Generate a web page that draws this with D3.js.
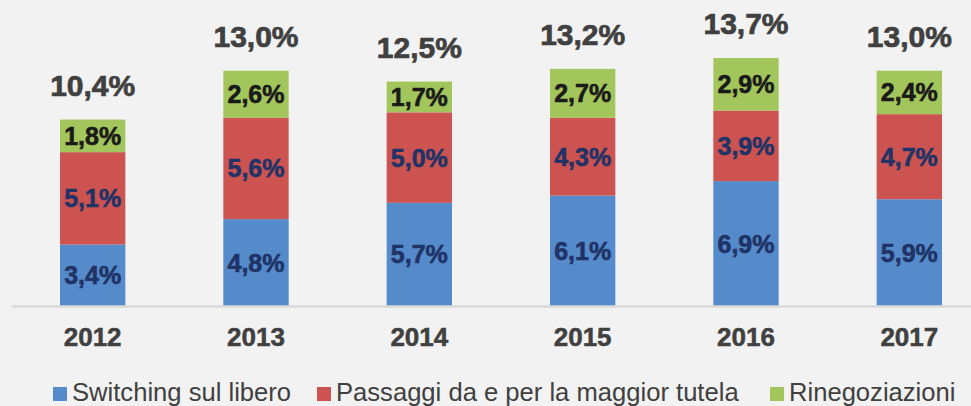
<!DOCTYPE html>
<html>
<head>
<meta charset="utf-8">
<script src="https://cdn.jsdelivr.net/npm/d3@7"></script>
<style>
  body { margin: 0; background: #f2f2f2; }
  svg { display: block; font-family: "Liberation Sans", Arial, sans-serif; }
</style>
</head>
<body>
<div id="chart"></div>
<script>
const years = ['2012', '2013', '2014', '2015', '2016', '2017'];
const seriesNames = ['Switching sul libero', 'Passaggi da e per la maggior tutela', 'Rinegoziazioni'];
const switching = [3.4, 4.8, 5.7, 6.1, 6.9, 5.9];
const passaggi = [5.1, 5.6, 5.0, 4.3, 3.9, 4.7];
const rinegoziazioni = [1.8, 2.6, 1.7, 2.7, 2.9, 2.4];
const totals = [10.4, 13.0, 12.5, 13.2, 13.7, 13.0];

const colors = ['#558ACB', '#CD5351', '#A3C65C'];
const labelColors = ['#1F3366', '#1F3366', '#1a1a1a'];

const width = 971;
const height = 406;

const fmt = (v) => v.toFixed(1).replace('.', ',') + '%';

const rows = years.map((y, i) => ({
  year: y,
  s0: switching[i],
  s1: passaggi[i],
  s2: rinegoziazioni[i],
  total: totals[i],
}));

const stack = d3.stack().keys(['s0', 's1', 's2']);
const series = stack(rows);

const svg = d3
  .select('#chart')
  .append('svg')
  .attr('width', width)
  .attr('height', height);

svg.append('rect').attr('width', width).attr('height', height).attr('fill', '#f2f2f2');

const xScale = d3
  .scaleBand()
  .domain(years)
  .range([11, 991])
  .paddingInner(0.6)
  .paddingOuter(0.3);

const yScale = d3.scaleLinear().domain([0, 14]).range([306, 306 - 14 * 18.1]);

// bars
const layers = svg
  .append('g')
  .selectAll('g')
  .data(series)
  .join('g')
  .attr('fill', (d, i) => colors[i]);

layers
  .selectAll('rect')
  .data((d) => d)
  .join('rect')
  .attr('x', (d) => xScale(d.data.year))
  .attr('width', xScale.bandwidth())
  .attr('y', (d) => yScale(d[1]))
  .attr('height', (d) => yScale(d[0]) - yScale(d[1]));

// segment labels
series.forEach((layer, li) => {
  svg
    .append('g')
    .selectAll('text')
    .data(layer)
    .join('text')
    .attr('x', (d) => xScale(d.data.year) + xScale.bandwidth() / 2)
    .attr('y', (d) => (yScale(d[0]) + yScale(d[1])) / 2)
    .attr('dy', '0.36em')
    .attr('text-anchor', 'middle')
    .attr('font-size', 25)
    .attr('font-weight', 'bold')
    .attr('fill', labelColors[li])
    .attr('stroke', labelColors[li])
    .attr('stroke-width', 0.6)
    .text((d) => fmt(d[1] - d[0]));
});

// totals
svg
  .append('g')
  .selectAll('text')
  .data(series[2])
  .join('text')
  .attr('x', (d) => xScale(d.data.year) + xScale.bandwidth() / 2)
  .attr('y', (d) => yScale(d[1]) - 24)
  .attr('text-anchor', 'middle')
  .attr('font-size', 30)
  .attr('font-weight', 'bold')
  .attr('fill', '#404040')
  .attr('stroke', '#404040')
  .attr('stroke-width', 0.7)
  .text((d) => fmt(d.data.total));

// x axis
const xAxis = svg
  .append('g')
  .attr('transform', `translate(0, ${yScale(0)})`)
  .call(d3.axisBottom(xScale).tickSize(0).tickPadding(22).tickSizeOuter(0));

xAxis.select('.domain').attr('stroke', '#d9d9d9').attr('stroke-width', 2.5);
xAxis
  .selectAll('text')
  .attr('font-size', 26)
  .attr('font-weight', 'bold')
  .attr('fill', '#404040')
  .attr('stroke', '#404040')
  .attr('stroke-width', 0.5)
  .attr('font-family', '"Liberation Sans", Arial, sans-serif');

// legend
const legendX = [53, 317, 770];
const legend = svg
  .append('g')
  .selectAll('g')
  .data(seriesNames)
  .join('g')
  .attr('transform', (d, i) => `translate(${legendX[i]}, 387)`);

legend
  .append('rect')
  .attr('width', 14)
  .attr('height', 14)
  .attr('fill', (d, i) => colors[i]);

legend
  .append('text')
  .attr('x', 19)
  .attr('y', 14)
  .attr('font-size', 25.6)
  .attr('fill', '#404040')
  .text((d) => d);
</script>
</body>
</html>
